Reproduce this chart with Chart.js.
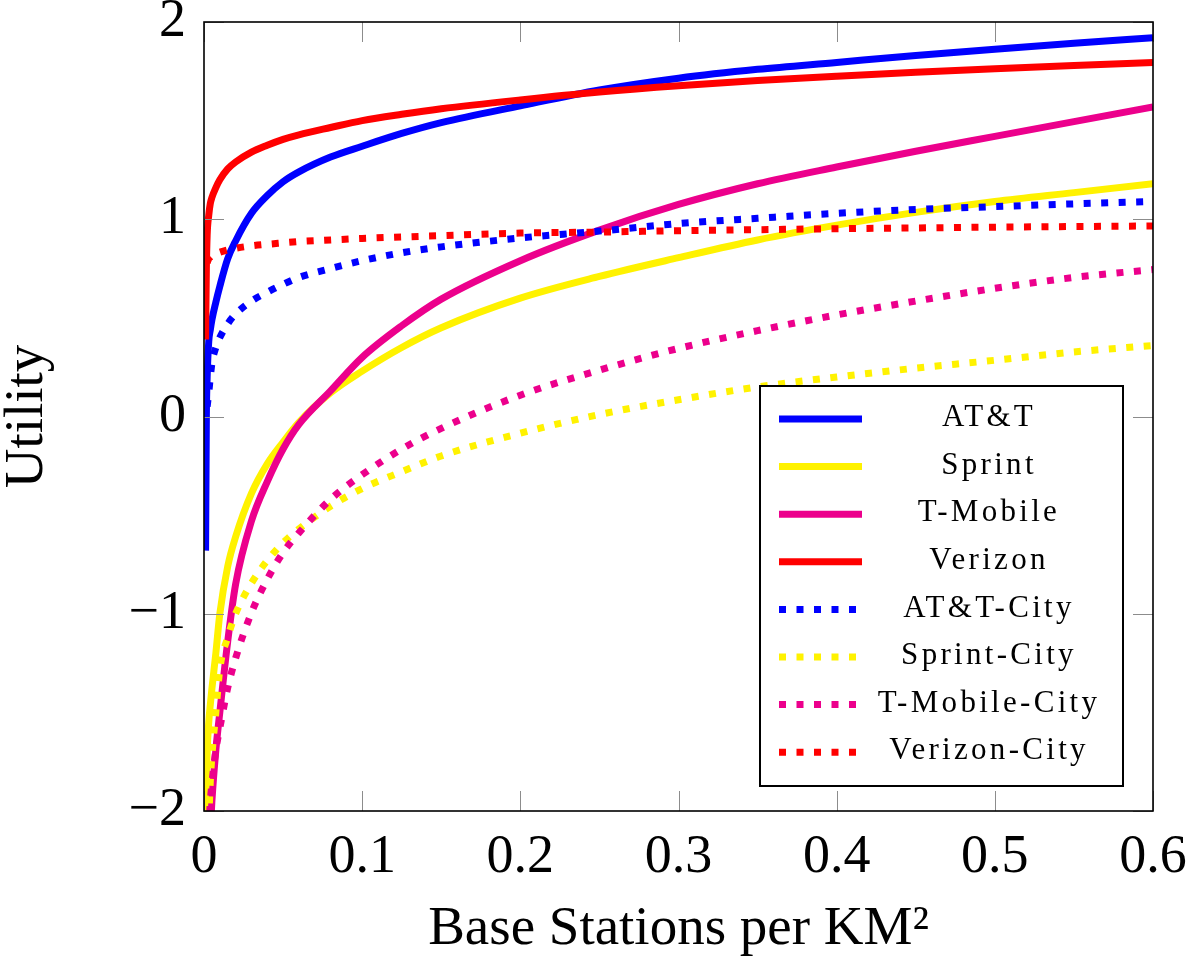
<!DOCTYPE html>
<html>
<head>
<meta charset="utf-8">
<script src="https://cdn.jsdelivr.net/npm/chart.js@4.4.0/dist/chart.umd.min.js"></script>
<style>
  html, body { margin: 0; padding: 0; background: #fff; }
  canvas { display: block; }
</style>
</head>
<body>
<canvas id="utilityChart" width="1197" height="957"></canvas>
<script>
// base stations per km^2 (shared x positions)
const densities = [0.001, 0.0015, 0.002, 0.003, 0.004, 0.005, 0.0075, 0.01, 0.015, 0.02, 0.03, 0.04, 0.05, 0.06,
    0.08, 0.1, 0.125, 0.15, 0.2, 0.25, 0.3, 0.35, 0.4, 0.45, 0.5, 0.55, 0.6];

const attUtility = [-0.68, 0.0, 0.2, 0.38, 0.44, 0.49, 0.58, 0.66, 0.8, 0.89, 1.03, 1.12, 1.19, 1.24,
    1.315, 1.37, 1.435, 1.49, 1.575, 1.655, 1.715, 1.76, 1.795, 1.83, 1.862, 1.892, 1.92];
const sprintUtility = [-2.05, -1.85, -1.7, -1.55, -1.46, -1.38, -1.2, -1.0, -0.76, -0.61, -0.39, -0.24, -0.13, -0.03,
    0.12, 0.23, 0.35, 0.45, 0.6, 0.71, 0.805, 0.895, 0.97, 1.035, 1.09, 1.135, 1.18];
const tmobileUtility = [null, null, null, null, -2.1, -1.95, -1.69, -1.5, -1.14, -0.85, -0.53, -0.33, -0.165, -0.04,
    0.13, 0.3, 0.46, 0.595, 0.79, 0.945, 1.075, 1.18, 1.265, 1.345, 1.42, 1.495, 1.57];
const verizonUtility = [0.39, 0.75, 0.92, 1.02, 1.08, 1.11, 1.16, 1.2, 1.255, 1.29, 1.34, 1.375, 1.405, 1.428,
    1.465, 1.5, 1.532, 1.56, 1.605, 1.645, 1.677, 1.703, 1.725, 1.745, 1.763, 1.78, 1.795];
const attCityUtility = [null, null, 0.05, 0.12, 0.2, 0.27, 0.35, 0.4, 0.47, 0.52, 0.585, 0.63, 0.67, 0.705,
    0.75, 0.79, 0.83, 0.86, 0.905, 0.94, 0.978, 1.005, 1.03, 1.05, 1.064, 1.078, 1.09];
const sprintCityUtility = [null, null, null, -2.05, -1.85, -1.72, -1.5, -1.28, -1.12, -1.0, -0.845, -0.73, -0.64, -0.57,
    -0.455, -0.365, -0.28, -0.2, -0.085, 0.01, 0.085, 0.15, 0.2, 0.245, 0.285, 0.327, 0.36];
const tmobileCityUtility = [null, null, null, -2.1, -1.95, -1.86, -1.69, -1.58, -1.375, -1.225, -0.995, -0.825, -0.69, -0.59,
    -0.42, -0.295, -0.165, -0.06, 0.108, 0.235, 0.345, 0.435, 0.515, 0.585, 0.65, 0.705, 0.745];
const verizonCityUtility = [null, null, 0.78, 0.8, 0.808, 0.815, 0.825, 0.833, 0.845, 0.853, 0.865, 0.873, 0.88, 0.887,
    0.895, 0.903, 0.91, 0.917, 0.93, 0.935, 0.942, 0.947, 0.952, 0.956, 0.96, 0.963, 0.966];

const seriesNames = ['AT&T', 'Sprint', 'T-Mobile', 'Verizon', 'AT&T-City', 'Sprint-City', 'T-Mobile-City', 'Verizon-City'];
const seriesValues = [attUtility, sprintUtility, tmobileUtility, verizonUtility,
    attCityUtility, sprintCityUtility, tmobileCityUtility, verizonCityUtility];

const xTicks = [0, 0.1, 0.2, 0.3, 0.4, 0.5, 0.6];
const yTicks = [-2, -1, 0, 1, 2];

const colors = ['#0000ff', '#fff200', '#ec008c', '#ff0000', '#0000ff', '#fff200', '#ec008c', '#ff0000'];
const dotted = [7, 10.5];

const serif = '"Liberation Serif", "Times New Roman", serif';
Chart.defaults.font.family = serif;
Chart.defaults.color = '#000';

function fmt(v) {
    return String(v).replace('-', '\u2212');
}

// pgfplots-like frame with inward ticks on all four sides
const frameTicks = {
    id: 'frameTicks',
    afterDatasetsDraw(chart) {
        let ctx = chart.ctx;
        let a = chart.chartArea;
        let x = chart.scales.x, y = chart.scales.y;
        ctx.save();
        ctx.strokeStyle = '#8c8c8c';
        ctx.lineWidth = 1;
        ctx.beginPath();
        x.ticks.forEach(t => {
            let px = Math.round(x.getPixelForValue(t.value)) + 0.5;
            ctx.moveTo(px, a.bottom); ctx.lineTo(px, a.bottom - 20);
            ctx.moveTo(px, a.top); ctx.lineTo(px, a.top + 20);
        });
        y.ticks.forEach(t => {
            let py = Math.round(y.getPixelForValue(t.value)) + 0.5;
            ctx.moveTo(a.left, py); ctx.lineTo(a.left + 20, py);
            ctx.moveTo(a.right, py); ctx.lineTo(a.right - 20, py);
        });
        ctx.stroke();
        ctx.strokeStyle = '#000';
        ctx.lineWidth = 1.6;
        ctx.strokeRect(a.left, a.top, a.right - a.left, a.bottom - a.top);
        ctx.restore();
    }
};

// boxed legend inside the plot, bottom right
const boxLegend = {
    id: 'boxLegend',
    afterDraw(chart) {
        let ctx = chart.ctx;
        let a = chart.chartArea;
        let left = a.right - 393, top = a.top + 364, w = 363, h = 400;
        ctx.save();
        ctx.fillStyle = '#fff';
        ctx.fillRect(left, top, w, h);
        ctx.strokeStyle = '#000';
        ctx.lineWidth = 2;
        ctx.strokeRect(left, top, w, h);
        chart.data.datasets.forEach((ds, i) => {
            let cy = top + 33 + i * 47.6;
            ctx.strokeStyle = ds.borderColor;
            ctx.lineWidth = ds.borderWidth;
            ctx.lineCap = 'butt';
            ctx.setLineDash(ds.borderDash || []);
            ctx.beginPath();
            ctx.moveTo(left + 19, cy);
            ctx.lineTo(left + 102, cy);
            ctx.stroke();
            ctx.setLineDash([]);
            ctx.fillStyle = '#000';
            ctx.font = '31px ' + serif;
            ctx.letterSpacing = '3.3px';
            ctx.textAlign = 'center';
            ctx.textBaseline = 'middle';
            ctx.fillText(ds.label, left + 229, cy - 1);
        });
        ctx.restore();
    }
};

const datasets = seriesNames.map((name, i) => ({
    label: name,
    data: seriesValues[i]
        .map((v, j) => ({ x: densities[j], y: v }))
        .filter(p => p.y !== null),
    borderColor: colors[i],
    backgroundColor: colors[i],
    borderWidth: 7,
    borderDash: i >= 4 ? dotted : [],
    borderCapStyle: 'butt',
    pointRadius: 0,
    cubicInterpolationMode: 'monotone',
    clip: 0,
    order: seriesNames.length - 1 - i
}));

new Chart(document.getElementById('utilityChart'), {
    type: 'line',
    data: { datasets: datasets },
    plugins: [frameTicks, boxLegend],
    options: {
        responsive: false,
        animation: false,
        layout: { padding: { top: 22, right: 44, left: 0, bottom: 0 } },
        plugins: {
            legend: { display: false },
            tooltip: { enabled: false }
        },
        scales: {
            x: {
                type: 'linear',
                min: 0,
                max: 0.6,
                grid: { display: false, drawTicks: false },
                border: { display: false },
                afterBuildTicks: s => { s.ticks = xTicks.map(v => ({ value: v })); },
                ticks: { padding: 14, font: { size: 54 }, color: '#000', maxRotation: 0, callback: v => fmt(v) },
                title: { display: true, text: 'Base Stations per KM\u00b2', font: { size: 55, lineHeight: 1 }, padding: 0 },
                afterFit: s => { s.height = 146; s.paddingLeft = 0; s.paddingRight = 0; }
            },
            y: {
                type: 'linear',
                min: -2,
                max: 2,
                grid: { display: false, drawTicks: false },
                border: { display: false },
                afterBuildTicks: s => { s.ticks = yTicks.map(v => ({ value: v })); },
                ticks: { padding: 18, font: { size: 54 }, color: '#000', callback: v => fmt(v) },
                title: { display: true, text: 'Utility', font: { size: 55, lineHeight: 1 }, padding: 0 },
                afterFit: s => { s.width = 204; s.paddingTop = 0; s.paddingBottom = 0; }
            }
        }
    }
});
</script>
</body>
</html>
